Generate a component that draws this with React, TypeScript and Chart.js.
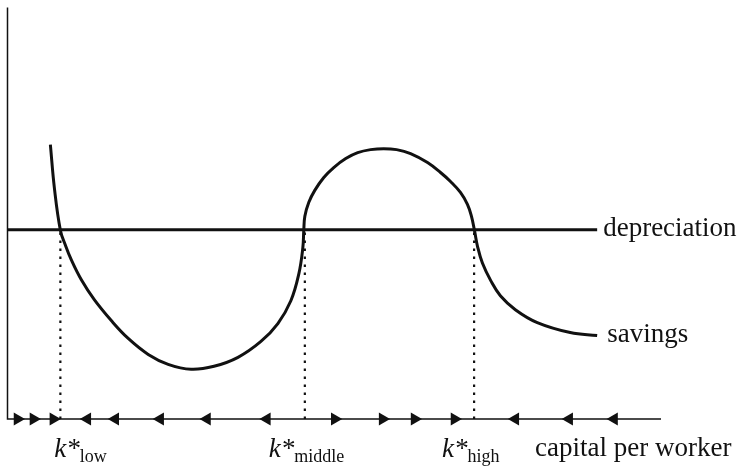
import React, { useEffect, useRef } from 'react';
import { Chart, registerables } from 'chart.js';
Chart.register(...registerables);

// capital per worker (x) and amounts (y) in arbitrary units 0..100
const savingsK = [6.56, 7.18, 8.09, 8.85, 9.77, 11.3, 13.28, 15.88, 18.47, 21.53, 24.58, 28.09, 31.6, 35.27, 38.78, 41.37, 43.36, 44.58, 45.19, 45.34, 45.5, 46.11, 47.02, 48.4, 49.92, 51.76, 53.59, 55.57, 57.56, 59.54, 61.68, 64.27, 66.26, 67.79, 69.31, 70.38, 70.99, 71.45, 71.91, 72.67, 73.97, 75.42, 77.71, 81.07, 86.11, 90.23];
const savingsV = [66.67, 56.04, 45.89, 42.27, 38.65, 33.82, 28.99, 23.91, 19.57, 15.7, 13.29, 12.08, 12.8, 14.98, 18.84, 23.19, 28.74, 35.27, 41.55, 45.89, 49.28, 52.66, 55.56, 58.7, 61.11, 63.29, 64.73, 65.46, 65.7, 65.46, 64.49, 62.32, 59.9, 57.73, 55.07, 52.17, 49.28, 45.89, 42.03, 37.92, 33.57, 29.95, 26.57, 23.43, 21.01, 20.29];
const depreciationK = [0, 90.23];
const depreciationV = [46, 46];
const kStar = [8.09, 45.5, 71.4];
const kStarSub = ['low', 'middle', 'high'];
const arrowsRightK = [1.53, 3.97, 7.02, 50.08, 57.4, 62.29, 68.4];
const arrowsLeftK = [12.21, 16.49, 23.36, 30.53, 39.69, 77.71, 85.95, 92.82];
const curveLabels = ['savings', 'depreciation'];
const axisLabel = 'capital per worker';

const INK = '#111111';
const SERIF = '"Liberation Serif", "Times New Roman", serif';

export default function App() {
  const ref = useRef<HTMLCanvasElement | null>(null);
  useEffect(() => {
    document.body.style.margin = '0';
    const canvas = ref.current;
    if (!canvas) return;

    const toPts = (xs: number[], ys: number[]) => xs.map((x, i) => ({ x, y: ys[i] }));

    const dotted = kStar.map((k) => ({
      data: [{ x: k, y: 0 }, { x: k, y: depreciationV[0] }],
      showLine: true,
      borderColor: INK,
      borderWidth: 2.2,
      borderDash: [2.5, 5.5],
      pointRadius: 0,
      clip: false as const,
    }));

    const labelPlugin = {
      id: 'labels',
      beforeDatasetsDraw(chart: any) {
        const { ctx, chartArea } = chart;
        ctx.save();
        ctx.strokeStyle = INK;
        ctx.lineWidth = 1.5;
        ctx.beginPath();
        ctx.moveTo(chartArea.left, chartArea.top);
        ctx.lineTo(chartArea.left, chartArea.bottom);
        ctx.lineTo(chartArea.right, chartArea.bottom);
        ctx.stroke();
        ctx.restore();
      },
      afterDatasetsDraw(chart: any) {
        const { ctx, chartArea } = chart;
        const xs = chart.scales.x;
        const ys = chart.scales.y;
        ctx.save();
        ctx.fillStyle = INK;
        ctx.textBaseline = 'middle';
        ctx.font = `27px ${SERIF}`;
        const ends = [
          { k: savingsK[savingsK.length - 1], v: savingsV[savingsV.length - 1], t: curveLabels[0], dx: 10 },
          { k: depreciationK[1], v: depreciationV[1], t: curveLabels[1], dx: 6 },
        ];
        ends.forEach((e) => {
          ctx.fillText(e.t, xs.getPixelForValue(e.k) + e.dx, ys.getPixelForValue(e.v) - 1);
        });
        ctx.textBaseline = 'alphabetic';
        ctx.fillText(axisLabel, chartArea.right - 126, chartArea.bottom + 37);
        const offs = [-6, -36, -32];
        kStar.forEach((k, i) => {
          const x0 = xs.getPixelForValue(k) + offs[i];
          ctx.font = `italic 27px ${SERIF}`;
          ctx.fillText('k*', x0, chartArea.bottom + 38);
          const w = ctx.measureText('k*').width;
          ctx.font = `18px ${SERIF}`;
          ctx.fillText(kStarSub[i], x0 + w, chartArea.bottom + 43);
        });
        ctx.restore();
      },
    };

    const chart = new Chart(canvas, {
      type: 'scatter',
      data: {
        datasets: [
          {
            data: toPts(savingsK, savingsV),
            showLine: true,
            borderColor: INK,
            borderWidth: 3,
            tension: 0.4,
            pointRadius: 0,
            clip: false,
          } as any,
          {
            data: toPts(depreciationK, depreciationV),
            showLine: true,
            borderColor: INK,
            borderWidth: 3,
            pointRadius: 0,
            clip: false,
          },
          ...dotted,
          {
            data: arrowsRightK.map((k) => ({ x: k, y: 0 })),
            showLine: false,
            pointStyle: 'triangle',
            rotation: 90,
            pointRadius: 7.5,
            backgroundColor: INK,
            borderColor: INK,
            borderWidth: 0,
            clip: false,
          },
          {
            data: arrowsLeftK.map((k) => ({ x: k, y: 0 })),
            showLine: false,
            pointStyle: 'triangle',
            rotation: -90,
            pointRadius: 7.5,
            backgroundColor: INK,
            borderColor: INK,
            borderWidth: 0,
            clip: false,
          },
        ],
      },
      options: {
        responsive: false,
        animation: false,
        layout: { padding: { left: 6, top: 5, right: 90, bottom: 48 } },
        plugins: { legend: { display: false }, tooltip: { enabled: false } },
        scales: {
          x: { type: 'linear', min: 0, max: 100, display: false },
          y: { type: 'linear', min: 0, max: 100, display: false },
        },
      },
      plugins: [labelPlugin],
    });
    return () => chart.destroy();
  }, []);

  return <canvas ref={ref} width={751} height={467} style={{ display: 'block' }} />;
}
